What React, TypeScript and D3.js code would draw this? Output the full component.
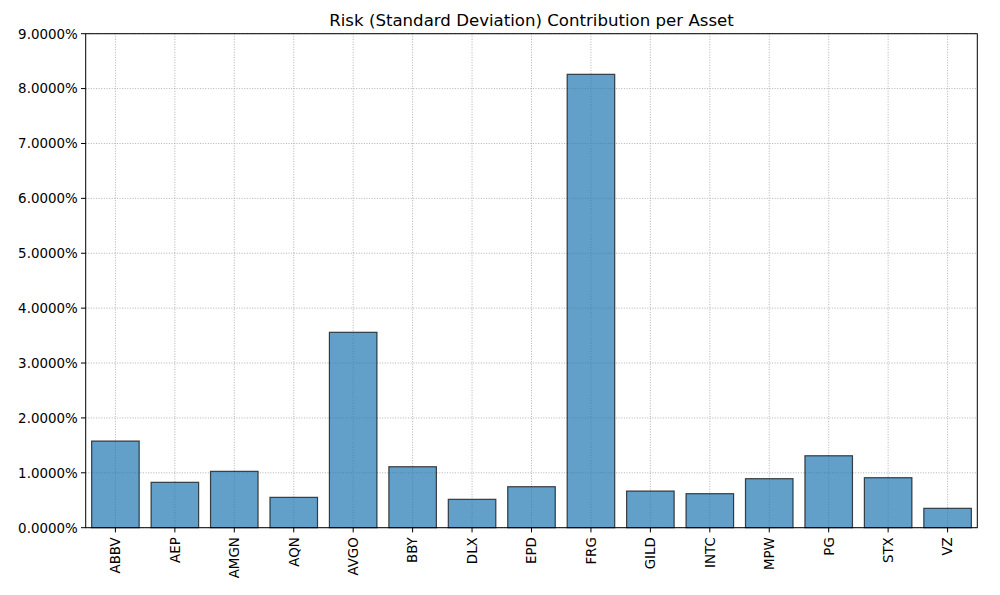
import React from "react";
import * as d3 from "d3";

const assets = ["ABBV", "AEP", "AMGN", "AQN", "AVGO", "BBY", "DLX", "EPD", "FRG", "GILD", "INTC", "MPW", "PG", "STX", "VZ"];
const contributions = [1.579, 0.827, 1.027, 0.553, 3.56, 1.111, 0.517, 0.747, 8.26, 0.668, 0.62, 0.893, 1.311, 0.911, 0.353];
const yTicks = [0, 1, 2, 3, 4, 5, 6, 7, 8, 9];
const title = "Risk (Standard Deviation) Contribution per Asset";

const W = 1000, H = 595;
const L = 85.7, R = 977.3, T = 33.7, B = 527.7;
const font = "DejaVu Sans, sans-serif";

export default function App() {
  const x = d3.scaleBand<string>().domain(assets).range([L, R]).paddingInner(0.2).paddingOuter(0.1);
  const y = d3.scaleLinear().domain([0, 9]).range([B, T]);
  const fmt = (v: number) => v.toFixed(4) + "%";
  return (
    <svg width={W} height={H} style={{ position: "absolute", left: 0, top: 0, background: "#fff" }} fontFamily={font}>
      <rect x={0} y={0} width={W} height={H} fill="#fff" />
      {/* grid */}
      {yTicks.map((t) => (
        <line key={"gy" + t} x1={L} x2={R} y1={y(t)} y2={y(t)} stroke="#a8a8a8" strokeWidth={0.9} strokeDasharray="1,1.6" />
      ))}
      {assets.map((a) => {
        const cx = x(a)! + x.bandwidth() / 2;
        return <line key={"gx" + a} x1={cx} x2={cx} y1={T} y2={B} stroke="#a8a8a8" strokeWidth={0.9} strokeDasharray="1,1.6" />;
      })}
      {/* bars */}
      {assets.map((a, i) => (
        <rect
          key={a}
          x={x(a)!}
          y={y(contributions[i])}
          width={x.bandwidth()}
          height={y(0) - y(contributions[i])}
          fill="#1f77b4"
          fillOpacity={0.7}
          stroke="#000"
          strokeOpacity={0.7}
          strokeWidth={1.2}
        />
      ))}
      {/* axes frame */}
      <rect x={L} y={T} width={R - L} height={B - T} fill="none" stroke="#000" strokeWidth={1} />
      {/* y ticks */}
      {yTicks.map((t) => (
        <g key={"yt" + t}>
          <line x1={L - 4.7} x2={L} y1={y(t)} y2={y(t)} stroke="#000" strokeWidth={1} />
          <text x={L - 8} y={y(t)} dy="0.36em" textAnchor="end" fontSize={13.4} fill="#000">
            {fmt(t)}
          </text>
        </g>
      ))}
      {/* x ticks */}
      {assets.map((a) => {
        const cx = x(a)! + x.bandwidth() / 2;
        return (
          <g key={"xt" + a}>
            <line x1={cx} x2={cx} y1={B} y2={B + 4.7} stroke="#000" strokeWidth={1} />
            <text
              transform={`translate(${cx},${B + 9.5}) rotate(-90)`}
              textAnchor="end"
              dy="0.36em"
              fontSize={13.4}
              fill="#000"
            >
              {a}
            </text>
          </g>
        );
      })}
      <text x={(L + R) / 2} y={T - 8} textAnchor="middle" fontSize={16.6} fill="#000">
        {title}
      </text>
    </svg>
  );
}
